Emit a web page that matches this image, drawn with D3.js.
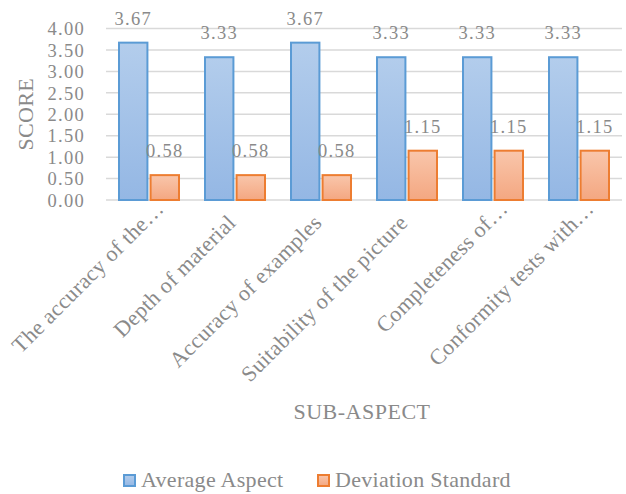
<!DOCTYPE html>
<html>
<head>
<meta charset="utf-8">
<script src="https://cdn.jsdelivr.net/npm/d3@7"></script>
<style>
  html, body { margin: 0; padding: 0; background: #fff; }
  svg text { font-family: "Liberation Serif", "Times New Roman", serif; fill: #8a8a8a; }
</style>
</head>
<body>
<svg id="chart" width="626" height="494"></svg>
<script>
const categories = [
  "The accuracy of the\u2026",
  "Depth of material",
  "Accuracy of examples",
  "Suitability of the picture",
  "Completeness of\u2026",
  "Conformity tests with\u2026"
];
const averageAspect = [3.67, 3.33, 3.67, 3.33, 3.33, 3.33];
const deviationStandard = [0.58, 0.58, 0.58, 1.15, 1.15, 1.15];
const yTicks = [0, 0.5, 1, 1.5, 2, 2.5, 3, 3.5, 4];
const seriesNames = ["Average Aspect", "Deviation Standard"];

const svg = d3.select("#chart");
const plot = { left: 106, right: 622, top: 28.5, bottom: 200 };

const defs = svg.append("defs");
function grad(id, top, bottom) {
  const g = defs.append("linearGradient").attr("id", id)
    .attr("x1", 0).attr("y1", 0).attr("x2", 0).attr("y2", 1);
  g.append("stop").attr("offset", "0%").attr("stop-color", top);
  g.append("stop").attr("offset", "100%").attr("stop-color", bottom);
}
grad("gBlue", "#b3cdec", "#94b7e4");
grad("gOrange", "#f9c6ab", "#f4a781");

const fills = ["url(#gBlue)", "url(#gOrange)"];
const strokes = ["#5b9bd5", "#ed7d31"];
const numFont = "18.5px", numSpacing = "1.3px";

const x = d3.scaleBand().domain(categories).range([plot.left, plot.right]).paddingInner(0).paddingOuter(0);
const x1 = d3.scaleBand().domain(seriesNames).range([13, x.bandwidth() - 13]).paddingInner(0.1);
const y = d3.scaleLinear().domain([0, 4]).range([plot.bottom, plot.top]);

// gridlines
svg.append("g").selectAll("line").data(yTicks).join("line")
  .attr("x1", plot.left).attr("x2", plot.right)
  .attr("y1", d => y(d)).attr("y2", d => y(d))
  .attr("stroke", "#d9d9d9").attr("stroke-width", 1.5);

// y axis labels
const yAxis = d3.axisLeft(y).tickValues(yTicks).tickFormat(d3.format(".2f")).tickSize(0).tickPadding(0);
const yg = svg.append("g").attr("transform", `translate(85,0)`).call(yAxis);
yg.select(".domain").remove();
yg.selectAll("text").style("font-size", numFont).style("letter-spacing", numSpacing)
  .attr("fill", "#8a8a8a")
  .style("font-family", '"Liberation Serif", serif').attr("dy", "0.34em");

// bars
const series = [averageAspect, deviationStandard];
const groups = svg.append("g").selectAll("g").data(categories).join("g")
  .attr("transform", d => `translate(${x(d)},0)`);

series.forEach((vals, si) => {
  groups.append("rect")
    .attr("x", x1(seriesNames[si]))
    .attr("width", x1.bandwidth())
    .attr("y", (d, i) => y(vals[i]))
    .attr("height", (d, i) => y(0) - y(vals[i]))
    .attr("fill", fills[si])
    .attr("stroke", strokes[si]).attr("stroke-width", 2);
  groups.append("text")
    .attr("x", x1(seriesNames[si]) + x1.bandwidth() / 2)
    .attr("y", (d, i) => y(vals[i]) - 18)
    .attr("text-anchor", "middle")
    .style("font-size", numFont).style("letter-spacing", numSpacing)
    .text((d, i) => vals[i].toFixed(2));
});

// x category labels
const xAxis = d3.axisBottom(x).tickSize(0).tickPadding(0);
const xg = svg.append("g").attr("transform", `translate(0,${plot.bottom})`).call(xAxis);
xg.select(".domain").remove();
xg.selectAll(".tick text")
  .style("font-size", "22px").style("letter-spacing", "0.4px")
  .style("font-family", '"Liberation Serif", serif')
  .attr("fill", "#8a8a8a")
  .attr("text-anchor", "end")
  .attr("dy", 0)
  .attr("y", 0)
  .attr("transform", "translate(2,24) rotate(-45)")
  .each(function(d) {
    const t = d3.select(this);
    if (d.endsWith("\u2026")) {
      const tmp = xg.append("text").style("font-size", "22px").text("\u2026");
      const w = tmp.node().getComputedTextLength();
      tmp.remove();
      t.attr("x", w - 2);
    } else {
      t.attr("x", 0);
    }
  });

// axis titles
svg.append("text")
  .attr("transform", `translate(33,${(plot.top + plot.bottom) / 2}) rotate(-90)`)
  .attr("text-anchor", "middle").style("font-size", "22px").style("letter-spacing", "0.3px")
  .text("SCORE");
svg.append("text")
  .attr("x", (plot.left + plot.right) / 2 - 2).attr("y", 419)
  .attr("text-anchor", "middle").style("font-size", "22px").style("letter-spacing", "0.5px")
  .text("SUB-ASPECT");

// legend
const legend = svg.append("g");
const legendX = [123, 317];
seriesNames.forEach((name, i) => {
  legend.append("rect").attr("x", legendX[i] + 1).attr("y", 475)
    .attr("width", 11).attr("height", 11)
    .attr("fill", fills[i]).attr("stroke", strokes[i]).attr("stroke-width", 2);
  legend.append("text").attr("x", legendX[i] + 18).attr("y", 487)
    .style("font-size", "22px").style("letter-spacing", "0.3px")
    .text(name);
});
</script>
</body>
</html>
